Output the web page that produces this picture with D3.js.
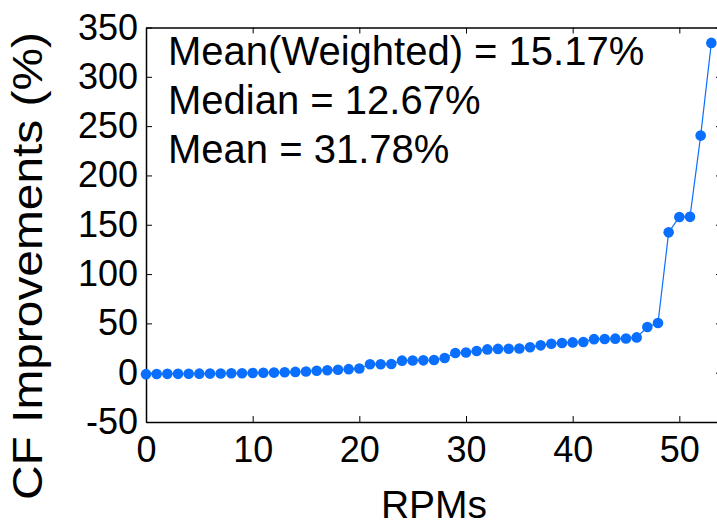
<!DOCTYPE html>
<html>
<head>
<meta charset="utf-8">
<script src="https://cdn.jsdelivr.net/npm/d3@7"></script>
<style>
  body { margin: 0; background: #fff; }
  svg { display: block; }
  text { font-family: "Liberation Sans", Arial, sans-serif; fill: #000; }
</style>
</head>
<body>
<div id="chart"></div>
<script>
// sorted CF improvement per RPM (%)
const improvements = [
  -1.5, -1.3, -1.2, -1.2, -1.1, -1.0, -0.9, -0.8, -0.6, -0.5,
  -0.3, -0.1, 0.1, 0.4, 0.8, 1.2, 2.0, 2.4, 3.0, 3.6,
  4.2, 8.5, 8.6, 8.8, 12.2, 12.4, 12.5, 12.84, 14.9, 20.0,
  20.4, 22.0, 23.6, 24.1, 24.3, 24.6, 25.8, 27.7, 29.4, 30.1,
  30.7, 31.1, 34.0, 34.2, 34.5, 34.6, 35.8, 46.3, 50.4, 142.3,
  157.9, 158.0, 240.4, 334.4
]
const xTicks = [0, 10, 20, 30, 40, 50]
const yTicks = [-50, 0, 50, 100, 150, 200, 250, 300, 350]
const notes = ['Mean(Weighted) = 15.17%', 'Median = 12.67%', 'Mean = 31.78%']

const W = 717, H = 527
const m = { left: 146, right: 722, top: 27.5, bottom: 422 }

const svg = d3.select('#chart').append('svg')
  .attr('width', W)
  .attr('height', H)

const x = d3.scaleLinear().domain([0, 54]).range([m.left, m.right])
const y = d3.scaleLinear().domain([-50, 350]).range([m.bottom, m.top])

const tickFs = 36

// box + inward ticks
const fmt = d => String(d)
const axes = svg.append('g')
axes.append('g')
  .attr('transform', `translate(0,${m.bottom})`)
  .call(d3.axisBottom(x).tickValues(xTicks).tickFormat(fmt).tickSizeInner(-6).tickSizeOuter(0).tickPadding(14))
axes.append('g')
  .attr('transform', `translate(0,${m.top})`)
  .call(d3.axisTop(x).tickValues(xTicks).tickSizeInner(-6).tickSizeOuter(0).tickFormat(''))
axes.append('g')
  .attr('transform', `translate(${m.left},0)`)
  .call(d3.axisLeft(y).tickValues(yTicks).tickFormat(fmt).tickSizeInner(-6).tickSizeOuter(0).tickPadding(8))
axes.append('g')
  .attr('transform', `translate(${m.right},0)`)
  .call(d3.axisRight(y).tickValues(yTicks).tickSizeInner(-6).tickSizeOuter(0).tickFormat(''))

axes.selectAll('.domain').attr('stroke', '#000').attr('stroke-width', 1.5)
axes.selectAll('.tick line').attr('stroke', '#000').attr('stroke-width', 1)
axes.selectAll('.tick text')
  .style('font-family', '"Liberation Sans", Arial, sans-serif')
  .style('font-size', tickFs + 'px')
  .attr('fill', '#000')

// series
const blue = '#0a6fff'
const line = d3.line()
  .x((d, i) => x(i))
  .y(d => y(d))

svg.append('path')
  .datum(improvements)
  .attr('d', line)
  .attr('fill', 'none')
  .attr('stroke', blue)
  .attr('stroke-width', 1.2)

svg.append('g')
  .selectAll('circle')
  .data(improvements)
  .join('circle')
  .attr('cx', (d, i) => x(i))
  .attr('cy', d => y(d))
  .attr('r', 5.3)
  .attr('fill', blue)

// annotations
svg.append('g')
  .selectAll('text')
  .data(notes)
  .join('text')
  .attr('x', 168)
  .attr('y', (d, i) => 65 + i * 49)
  .style('font-size', '40px')
  .text(d => d)

// axis titles
svg.append('text')
  .attr('x', (m.left + m.right) / 2)
  .attr('y', 518)
  .attr('text-anchor', 'middle')
  .style('font-size', '39px')
  .text('RPMs')

svg.append('text')
  .attr('transform', 'translate(42,266) rotate(-90)')
  .attr('text-anchor', 'middle')
  .attr('textLength', 468)
  .attr('lengthAdjust', 'spacingAndGlyphs')
  .style('font-size', '42px')
  .text('CF Improvements (%)')
</script>
</body>
</html>
